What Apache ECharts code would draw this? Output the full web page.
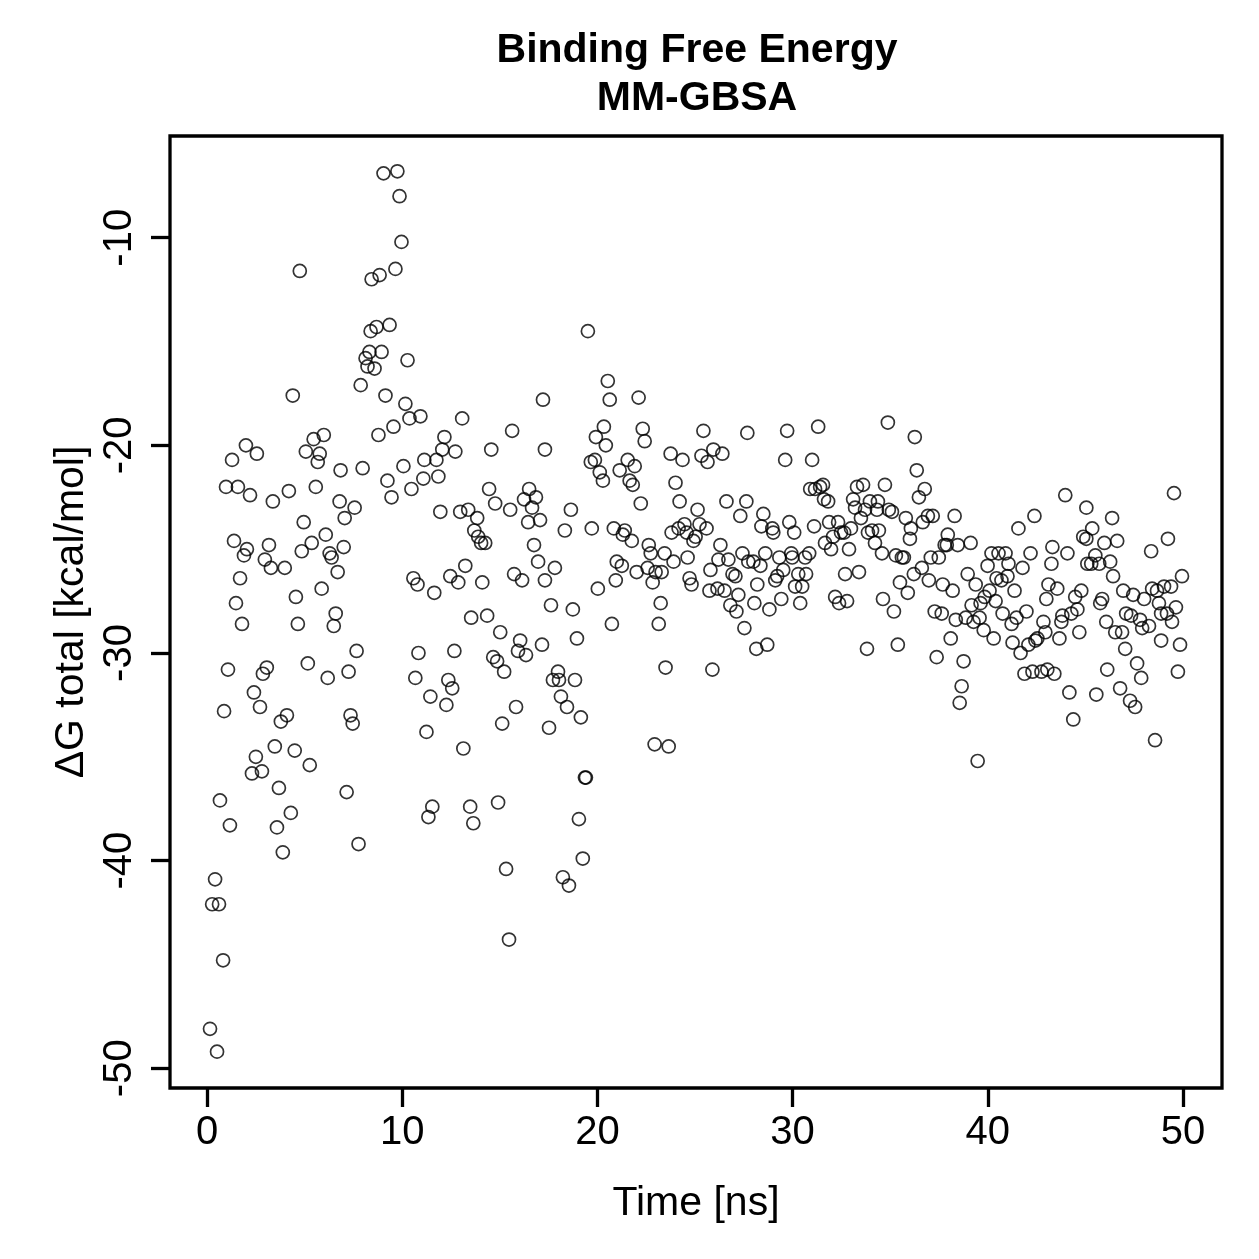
<!DOCTYPE html>
<html>
<head>
<meta charset="utf-8">
<title>Binding Free Energy MM-GBSA</title>
<script src="https://cdn.jsdelivr.net/npm/echarts@6/dist/echarts.min.js"></script>
<style>
  html, body { margin: 0; padding: 0; background: #fff; }
  #chart { width: 1259px; height: 1259px; }
</style>
</head>
<body>
<div id="chart"></div>
<script>
  // [time (ns), dG total (kcal/mol)], grouped by stretch of the run
  const early = [
    [4.75, -11.6], [4.39, -17.6], [7.87, -17.1], [1.28, -20.7], [1.99, -20.0], [2.55, -20.4],
    [0.97, -22.0], [1.58, -22.0], [2.20, -22.4], [3.37, -22.7], [4.19, -22.2], [4.95, -23.7],
    [5.57, -22.0], [5.46, -19.7], [5.98, -19.5], [5.06, -20.3], [5.77, -20.4], [5.67, -20.8],
    [6.84, -21.2], [7.97, -21.1], [6.79, -22.7], [7.56, -23.0], [7.05, -23.5], [1.38, -24.6],
    [2.04, -25.0], [1.89, -25.3], [3.17, -24.8], [2.96, -25.5], [3.27, -25.9], [3.98, -25.9],
    [4.85, -25.1], [5.36, -24.7], [6.08, -24.3], [6.28, -25.2], [6.38, -25.4], [7.00, -24.9],
    [6.69, -26.1], [1.69, -26.4], [1.48, -27.6], [4.55, -27.3], [5.87, -26.9],
    [1.79, -28.6], [4.65, -28.6], [6.59, -28.1], [6.49, -28.7], [7.66, -29.9], [1.07, -30.8],
    [3.06, -30.7], [2.86, -31.0], [5.16, -30.5], [6.18, -31.2], [7.25, -30.9], [2.40, -31.9],
    [0.87, -32.8], [2.71, -32.6], [4.09, -33.0], [3.78, -33.3], [7.35, -33.0], [7.46, -33.4],
    [3.47, -34.5], [2.50, -35.0], [4.49, -34.7], [5.26, -35.4], [2.30, -35.8], [2.81, -35.7],
    [3.68, -36.5], [7.15, -36.7], [0.66, -37.1], [4.29, -37.7], [1.17, -38.3], [3.58, -38.4],
    [3.88, -39.6], [7.76, -39.2], [0.41, -40.9], [0.26, -42.1], [0.61, -42.1], [0.82, -44.8],
    [0.15, -48.1], [0.51, -49.2]
  ];

  const spike = [
    [9.04, -6.9], [9.75, -6.8], [9.86, -8.0], [9.96, -10.2], [9.65, -11.5], [8.84, -11.8],
    [8.43, -12.0], [9.35, -14.2], [8.68, -14.3], [8.38, -14.5], [8.94, -15.5], [8.32, -15.5],
    [8.12, -15.8], [8.58, -16.3], [8.22, -16.2], [10.27, -15.9], [9.14, -17.6], [10.16, -18.0],
    [10.37, -18.7], [10.93, -18.6], [9.55, -19.1], [8.78, -19.5], [13.07, -18.7], [12.16, -19.6],
    [12.05, -20.2], [12.72, -20.3], [11.13, -20.7], [11.75, -20.7], [14.56, -20.2], [15.63, -19.3],
    [17.21, -17.8], [17.31, -20.2], [10.06, -21.0], [9.24, -21.7], [9.45, -22.5], [10.47, -22.1],
    [11.08, -21.6], [11.85, -21.5], [14.45, -22.1], [14.76, -22.8], [15.53, -23.1], [16.50, -22.1],
    [16.24, -22.6], [16.85, -22.5], [16.65, -23.0], [16.45, -23.7], [17.06, -23.6], [11.95, -23.2],
    [12.97, -23.2], [13.38, -23.1], [13.84, -23.5], [13.69, -24.1], [13.89, -24.4], [14.04, -24.7],
    [14.25, -24.7], [16.75, -24.8], [16.96, -25.6], [13.23, -25.8], [12.46, -26.3], [12.87, -26.6],
    [10.57, -26.4], [10.78, -26.7], [11.64, -27.1], [14.10, -26.6], [15.73, -26.2], [16.14, -26.5],
    [17.31, -26.5],
    [13.53, -28.3], [14.35, -28.2], [15.02, -29.0], [16.04, -29.4], [15.93, -29.9], [16.34, -30.1],
    [17.16, -29.6], [10.83, -30.0], [12.67, -29.9], [14.66, -30.2], [14.86, -30.4], [15.22, -30.9],
    [10.67, -31.2], [12.36, -31.3], [12.56, -31.7], [11.44, -32.1], [12.26, -32.5], [15.83, -32.6],
    [15.12, -33.4], [11.24, -33.8], [13.13, -34.6], [17.52, -33.6], [11.54, -37.4], [11.34, -37.9],
    [13.48, -37.4], [13.64, -38.2], [14.91, -37.2], [15.32, -40.4], [15.47, -43.8]
  ];

  const middle = [
    [19.51, -14.5], [20.53, -16.9], [20.63, -17.8], [22.11, -17.7], [20.33, -19.1], [19.92, -19.6],
    [20.43, -20.0], [22.32, -19.2], [22.42, -19.8], [25.43, -19.3], [23.75, -20.4], [24.36, -20.7],
    [25.33, -20.5], [25.64, -20.8], [25.94, -20.2], [19.66, -20.8], [19.87, -20.7], [20.12, -21.3],
    [20.28, -21.7], [21.14, -21.2], [21.55, -20.7], [21.91, -21.0], [21.65, -21.7], [21.81, -21.9],
    [24.00, -21.8], [24.21, -22.7], [22.22, -22.8], [25.13, -23.1], [18.64, -23.1], [18.33, -24.1],
    [19.71, -24.0], [20.84, -24.0], [21.40, -24.1], [21.30, -24.3], [21.76, -24.6], [22.63, -24.8],
    [22.73, -25.2], [23.44, -25.2], [23.90, -25.6], [24.62, -25.4], [23.80, -24.2], [24.16, -24.0],
    [24.46, -23.8], [24.57, -24.2], [25.03, -24.4], [24.92, -24.6], [25.23, -23.8], [25.59, -24.0],
    [17.82, -25.9], [20.99, -25.6], [21.25, -25.8], [20.94, -26.5], [20.02, -26.9], [22.01, -26.1],
    [22.57, -25.9], [22.98, -26.1], [23.29, -26.1], [22.83, -26.6], [23.24, -27.6], [24.72, -26.4],
    [24.82, -26.7], [25.74, -27.0], [25.79, -26.0], [17.62, -27.7], [18.74, -27.9],
    [20.74, -28.6], [23.14, -28.6], [18.95, -29.3], [17.98, -30.9], [17.72, -31.3], [18.03, -31.3],
    [18.85, -31.3], [23.49, -30.7], [25.89, -30.8], [18.13, -32.1], [18.44, -32.6], [19.15, -33.1],
    [22.93, -34.4], [23.65, -34.5], [19.36, -36.0], [19.41, -36.0], [19.05, -38.0], [19.25, -39.9],
    [18.23, -40.8], [18.54, -41.2]
  ];

  const late = [
    [27.68, -19.4], [29.72, -19.3], [31.31, -19.1], [26.40, -20.4], [29.62, -20.7], [31.00, -20.7],
    [30.90, -22.1], [31.15, -22.1], [31.41, -22.0], [31.56, -21.9], [31.61, -22.6], [31.82, -22.7],
    [33.30, -22.0], [33.61, -21.9], [34.73, -21.9], [33.10, -22.6], [33.20, -23.0], [33.71, -23.1],
    [33.96, -22.7], [34.37, -22.7], [34.32, -23.1], [33.50, -23.5], [26.61, -22.7], [27.63, -22.7],
    [27.32, -23.4], [28.50, -23.3], [28.40, -23.9], [28.96, -24.0], [29.01, -24.2], [29.83, -23.7],
    [30.08, -24.2], [31.10, -23.9], [31.87, -23.7], [32.33, -23.7], [32.99, -24.0], [32.07, -24.4],
    [32.48, -24.2], [32.64, -24.2], [31.66, -24.7], [31.97, -25.0], [32.89, -25.0], [33.86, -24.2],
    [34.07, -24.1], [34.42, -24.1], [34.22, -24.7], [34.58, -25.2], [26.30, -24.8], [26.20, -25.5],
    [26.71, -25.5], [27.43, -25.2], [27.73, -25.6], [27.99, -25.6], [28.35, -25.8], [28.60, -25.2],
    [29.32, -25.4], [29.93, -25.2], [29.98, -25.4], [30.64, -25.4], [30.85, -25.2], [26.92, -26.2],
    [27.07, -26.3], [29.52, -26.0], [29.21, -26.3], [29.11, -26.5], [30.29, -26.2], [30.69, -26.2],
    [28.19, -26.7], [30.13, -26.8], [30.49, -26.8], [32.69, -26.2], [33.40, -26.1], [26.15, -26.9],
    [26.51, -27.0], [27.22, -27.2], [26.81, -27.7], [27.12, -28.0], [28.04, -27.6], [28.81, -27.9],
    [29.42, -27.4], [30.39, -27.6], [32.18, -27.3], [32.38, -27.6], [32.79, -27.5], [34.63, -27.4],
    [27.53, -28.8], [28.14, -29.8], [28.70, -29.6], [33.81, -29.8]
  ];

  const later = [
    [34.88, -18.9], [36.26, -19.6], [36.36, -21.2], [36.77, -22.1], [36.47, -22.5], [34.93, -23.1],
    [35.09, -23.2], [35.80, -23.5], [36.06, -24.0], [36.67, -23.7], [36.93, -23.4], [37.18, -23.4],
    [38.30, -23.4], [36.01, -24.5], [35.29, -25.3], [35.60, -25.4], [35.70, -25.4], [37.95, -24.3],
    [37.79, -24.8], [37.90, -24.8], [38.46, -24.8], [39.12, -24.7], [37.08, -25.4], [37.49, -25.4],
    [36.62, -25.9], [36.21, -26.2], [36.98, -26.5], [35.50, -26.6], [35.90, -27.1], [37.69, -26.7],
    [38.20, -27.0], [35.19, -28.0], [37.28, -28.0], [37.64, -28.1], [38.36, -28.4], [38.87, -28.3],
    [39.27, -28.5], [39.58, -28.3], [39.79, -28.9], [40.30, -29.3], [38.97, -26.2], [39.38, -26.7],
    [39.17, -27.7], [39.63, -27.6], [39.84, -27.3], [40.09, -27.0], [40.40, -27.5], [39.99, -25.8],
    [40.19, -25.2], [40.55, -25.2], [40.91, -25.2], [41.06, -25.7], [40.45, -26.4], [40.70, -26.5],
    [41.01, -26.3], [40.76, -28.1], [41.22, -28.6], [41.47, -28.3], [41.98, -28.0], [41.37, -27.0],
    [41.78, -25.9], [42.19, -25.2], [41.57, -24.0], [42.39, -23.4], [43.31, -24.9], [43.26, -25.7],
    [43.11, -26.7], [43.00, -27.4], [35.39, -29.6], [37.38, -30.2], [38.10, -29.3], [38.76, -30.4],
    [38.66, -31.6], [38.56, -32.4], [39.48, -35.2], [41.27, -29.5], [41.68, -30.0], [42.08, -29.6],
    [42.44, -29.4], [42.54, -29.3], [42.85, -28.5], [42.95, -29.0], [41.88, -31.0], [42.29, -30.9],
    [42.75, -30.9], [43.05, -30.8], [43.41, -31.0]
  ];

  const tail = [
    [43.97, -22.4], [45.05, -23.0], [46.37, -23.5], [45.35, -24.0], [44.89, -24.4], [45.05, -24.5],
    [45.97, -24.7], [46.63, -24.6], [44.08, -25.2], [45.10, -25.7], [45.51, -25.3], [45.30, -25.7],
    [45.71, -25.7], [46.27, -25.6], [46.42, -26.3], [49.54, -22.3], [49.23, -24.5], [48.37, -25.1],
    [49.95, -26.3], [43.56, -26.9], [44.48, -27.3], [44.79, -27.0], [44.59, -27.9], [44.28, -28.1],
    [43.82, -28.2], [43.77, -28.5], [43.67, -29.3], [44.69, -29.0], [45.76, -27.6], [45.86, -27.4],
    [46.07, -28.5], [46.53, -29.0], [46.88, -29.0], [46.94, -27.0], [47.45, -27.2], [47.09, -28.1],
    [47.34, -28.2], [47.80, -28.4], [47.91, -28.8], [48.26, -28.7], [48.01, -27.4], [48.42, -26.9],
    [48.67, -27.0], [49.03, -26.8], [49.39, -26.8], [48.77, -27.6], [48.88, -28.1], [49.18, -28.1],
    [49.44, -28.5], [49.64, -27.8], [48.88, -29.4], [49.85, -29.6], [47.04, -29.8], [47.65, -30.5],
    [47.86, -31.2], [46.12, -30.8], [46.78, -31.7], [47.29, -32.3], [47.55, -32.6], [45.56, -32.0],
    [44.18, -31.9], [44.38, -33.2], [49.74, -30.9], [48.57, -34.2]
  ];

  const xTicks = [0, 10, 20, 30, 40, 50];
  const yTicks = [-50, -40, -30, -20, -10];

  const font = '"Liberation Sans", Arial, Helvetica, sans-serif';
  const chart = echarts.init(document.getElementById('chart'));

  chart.setOption({
    animation: false,
    backgroundColor: '#fff',
    title: {
      text: 'Binding Free Energy\nMM-GBSA',
      left: 692,
      textAlign: 'center',
      top: 22,
      textStyle: {
        fontFamily: font,
        fontSize: 41,
        fontWeight: 'bold',
        color: '#000',
        lineHeight: 48,
      },
    },
    grid: {
      left: 170,
      top: 136,
      right: 37,
      bottom: 171,
      show: true,
      borderColor: '#000',
      borderWidth: 3.3,
      backgroundColor: 'transparent',
    },
    xAxis: {
      type: 'value',
      min: -1.9,
      max: 52,
      name: 'Time [ns]',
      nameLocation: 'middle',
      nameGap: 95,
      nameTextStyle: { fontFamily: font, fontSize: 41, color: '#000' },
      axisLine: { show: false, onZero: false },
      splitLine: { show: false },
      axisTick: {
        show: true,
        length: 19,
        customValues: xTicks,
        lineStyle: { color: '#000', width: 3.3 },
      },
      axisLabel: {
        customValues: xTicks,
        margin: 25,
        fontFamily: font,
        fontSize: 40,
        color: '#000',
      },
    },
    yAxis: {
      type: 'value',
      min: -50.95,
      max: -5.1,
      name: 'ΔG total [kcal/mol]',
      nameLocation: 'middle',
      nameGap: 72,
      nameRotate: 90,
      nameTextStyle: { fontFamily: font, fontSize: 41, color: '#000' },
      axisLine: { show: false, onZero: false },
      splitLine: { show: false },
      axisTick: {
        show: true,
        length: 19,
        customValues: yTicks,
        lineStyle: { color: '#000', width: 3.3 },
      },
      axisLabel: {
        customValues: yTicks,
        rotate: 90,
        margin: 30,
        fontFamily: font,
        fontSize: 40,
        color: '#000',
      },
    },
    series: [
      {
        type: 'scatter',
        data: early.concat(spike, middle, late, later, tail),
        symbol: 'circle',
        symbolSize: 13,
        itemStyle: {
          color: 'rgba(255,255,255,0)',
          borderColor: '#000',
          borderWidth: 1.7,
        },
        emphasis: { disabled: true },
      },
    ],
  });
</script>
</body>
</html>
